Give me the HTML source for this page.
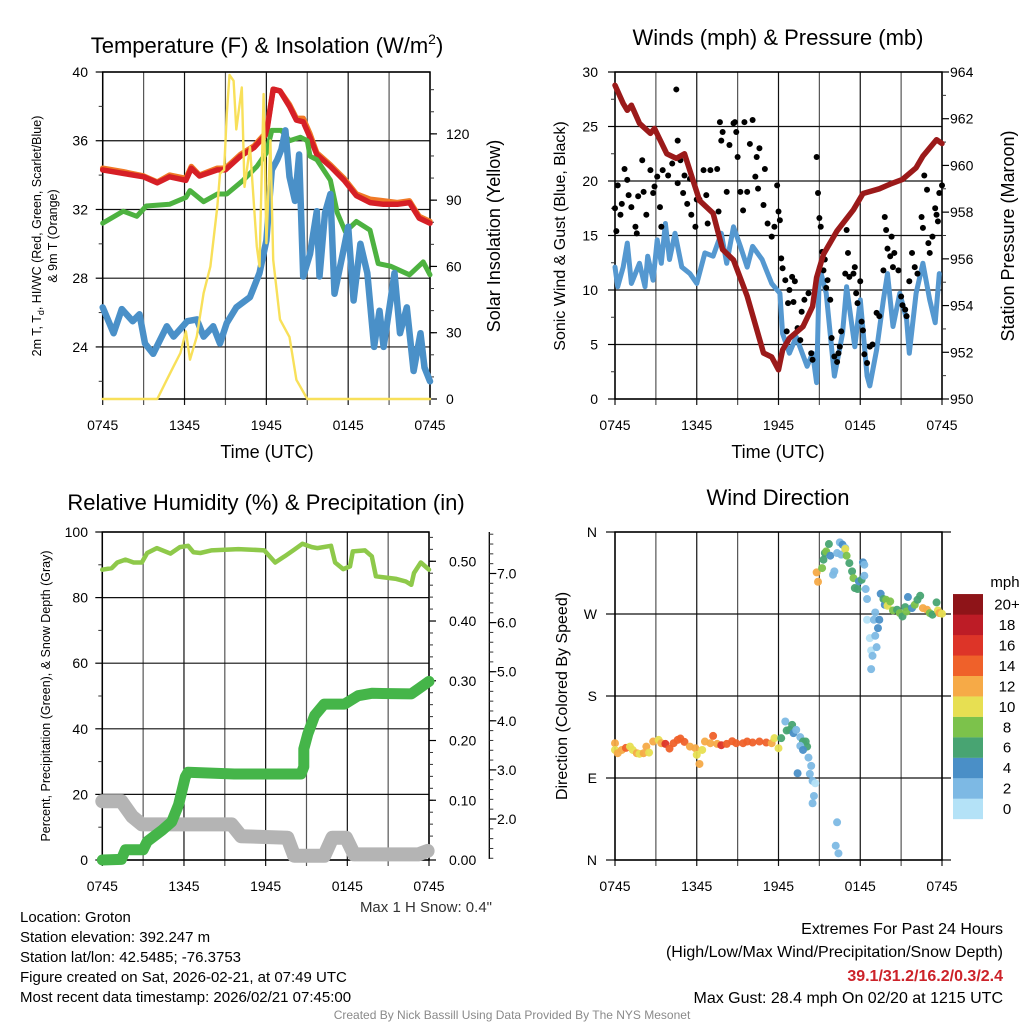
<!DOCTYPE html>
<html><head><meta charset="utf-8"><style>
html,body{margin:0;padding:0;background:#fff;}
svg{display:block;font-family:"Liberation Sans",Arial,sans-serif;}
</style></head><body>
<svg id="fig" width="1024" height="1024" viewBox="0 0 1024 1024" xmlns="http://www.w3.org/2000/svg">
<rect width="1024" height="1024" fill="#fff"/>
<text x="267" y="53" font-size="22" text-anchor="middle">Temperature (F) &amp; Insolation (W/m<tspan font-size="14" dy="-9">2</tspan><tspan dy="9">)</tspan></text>
<text x="778" y="45" font-size="22" text-anchor="middle">Winds (mph) &amp; Pressure (mb)</text>
<text x="266" y="510" font-size="22" text-anchor="middle">Relative Humidity (%) &amp; Precipitation (in)</text>
<text x="778" y="505" font-size="22" text-anchor="middle">Wind Direction</text>

<text x="267" y="458" font-size="18" text-anchor="middle">Time (UTC)</text>
<text x="778" y="458" font-size="18" text-anchor="middle">Time (UTC)</text>

<text transform="translate(41,236) rotate(-90)" font-size="12.5" text-anchor="middle">2m T, T<tspan font-size="9" dy="3">d</tspan><tspan dy="-3">, HI/WC (Red, Green, Scarlet/Blue)</tspan></text>
<text transform="translate(57,236) rotate(-90)" font-size="12.5" text-anchor="middle">&amp; 9m T (Orange)</text>
<text transform="translate(500,236) rotate(-90)" font-size="18" text-anchor="middle">Solar Insolation (Yellow)</text>
<text transform="translate(565,236) rotate(-90)" font-size="16" text-anchor="middle">Sonic Wind &amp; Gust (Blue, Black)</text>
<text transform="translate(1014,236) rotate(-90)" font-size="18" text-anchor="middle">Station Pressure (Maroon)</text>
<text transform="translate(50,696) rotate(-90)" font-size="12.5" text-anchor="middle">Percent, Precipitation (Green), &amp; Snow Depth (Gray)</text>
<text transform="translate(567,696) rotate(-90)" font-size="16" text-anchor="middle">Direction (Colored By Speed)</text>

<text x="492" y="912" font-size="15" fill="#333" text-anchor="end">Max 1 H Snow: 0.4"</text>
<g font-size="15">
<text x="20" y="922">Location: Groton</text>
<text x="20" y="942">Station elevation: 392.247 m</text>
<text x="20" y="962">Station lat/lon: 42.5485; -76.3753</text>
<text x="20" y="982">Figure created on Sat, 2026-02-21, at 07:49 UTC</text>
<text x="20" y="1002">Most recent data timestamp: 2026/02/21 07:45:00</text>
</g>
<g font-size="16" text-anchor="end">
<text x="1003" y="934">Extremes For Past 24 Hours</text>
<text x="1003" y="957">(High/Low/Max Wind/Precipitation/Snow Depth)</text>
<text x="1003" y="981" fill="#cc2229" font-weight="bold">39.1/31.2/16.2/0.3/2.4</text>
<text x="1003" y="1003">Max Gust: 28.4 mph On 02/20 at 1215 UTC</text>
</g>
<text x="512" y="1019" font-size="12" fill="#8a8a8a" text-anchor="middle">Created By Nick Bassill Using Data Provided By The NYS Mesonet</text>
<text x="1005" y="587" font-size="15" text-anchor="middle">mph</text>
</svg>
<script>
// ---------- Data ----------
const xTickLabels = ["0745","1345","1945","0145","0745"];
// Panel 1: temperature (F) & insolation
const redHours = [0,1.5,3.0,4.0,4.9,6.1,6.5,7.1,8.4,9.0,10.1,11.1,12.0,12.5,13.0,13.7,14.2,14.7,15.2,15.7,16.7,17.7,18.6,19.6,20.6,21.6,22.5,23.2,24.0];
const tempRed = [34.3,34.1,33.9,33.55,33.9,33.7,34.4,33.95,34.3,34.3,35.1,35.6,36.4,39.0,38.9,38.0,37.2,37.1,36.2,35.2,34.5,33.7,32.8,32.4,32.3,32.3,32.4,31.5,31.2];
const temp9m = [34.4,34.2,33.95,33.6,34.0,33.8,34.5,34.0,34.4,34.4,35.2,35.7,36.5,39.0,38.9,38.1,37.3,37.3,36.4,35.3,34.6,33.8,32.9,32.6,32.5,32.4,32.5,31.6,31.3];
const greenHours = [0,1.5,2.5,3.2,4.9,6.1,6.4,7.4,8.4,9.1,10.3,11.3,12.0,12.4,13.1,13.7,14.5,15.0,15.2,15.7,16.7,17.2,17.8,18.6,19.6,20.2,21.1,22.5,23.5,24.0];
const dewpoint = [31.2,31.9,31.6,32.2,32.3,32.7,33.1,32.45,32.9,32.9,33.7,34.5,35.3,36.6,36.6,36.0,36.2,36.0,35.1,34.9,33.7,31.8,30.7,31.3,30.8,28.85,28.7,28.2,28.95,28.2];
const blueHours = [0,0.8,1.4,2.2,2.7,3.1,3.7,4.2,4.7,5.2,6.2,6.9,7.4,8.1,8.6,9.1,9.8,10.8,11.5,12.0,12.4,12.8,13.1,13.4,13.7,14.1,14.4,14.7,15.2,15.7,15.9,16.3,16.7,17.0,17.7,18.0,18.4,18.9,19.4,19.9,20.3,20.6,21.1,21.4,21.8,22.3,22.8,23.3,23.6,24.0];
const windChill = [26.3,24.8,26.2,25.5,25.9,24.2,23.6,24.4,25.2,24.6,25.5,25.6,24.6,25.2,24.2,25.4,26.3,26.9,28.3,30.2,34.3,34.9,35.5,36.6,33.9,32.5,35.2,28.1,29.4,31.9,28.1,31.8,32.9,27.1,29.8,31.0,26.7,30.0,28.3,24.0,26.1,24.0,26.7,28.3,24.8,26.3,22.6,24.8,22.8,22.0];
const solarHours = [0,4.0,4.7,5.2,5.7,6.1,6.4,6.9,7.4,7.9,8.4,8.6,8.9,9.1,9.3,9.6,9.8,10.2,10.4,10.8,11.3,11.5,11.8,12.0,12.3,12.5,13.0,13.7,14.2,15.0,24.0];
const solar = [0,0,8.7,14.8,20.8,30.6,17.8,28.3,47.9,60,87,102,103.7,129,146.7,144,122,141,96,114,69,60,138,70.5,117,63,36,28,8.7,0,0];
const tempTicks = [24,28,32,36,40];
const solarTicks = [0,30,60,90,120];
// Panel 2: winds & pressure
const windHours = [0,0.2,0.6,0.9,1.2,1.8,2.2,2.4,2.8,3.1,3.4,3.7,4.0,4.4,4.9,5.5,6.0,6.6,7.2,7.8,8.2,8.7,9.2,9.7,10.1,10.8,11.5,12.1,12.3,12.8,13.3,14.1,14.5,14.8,15.0,15.5,16.1,16.7,17.0,17.6,18.0,18.5,18.7,19.2,19.7,20.0,20.4,20.9,21.4,21.6,22.1,22.6,23.1,23.5,23.8];
const windSpeed = [12.1,10.3,12.1,14.3,10.6,12.45,10.3,13.1,10.9,14.6,12.45,16.1,12.8,15.2,12.1,11.5,10.6,13.4,13.1,15.2,12.45,15.8,14.0,12.1,14.0,12.8,10.6,9.7,6.0,4.2,5.7,3.0,4.2,1.5,12.1,9.7,2.1,6.0,10.3,4.8,9.1,2.1,1.2,4.5,9.1,11.5,6.65,9.7,7.3,4.2,9.7,12.45,9.1,7.0,11.5];
const gustHours = [0.0,0.1,0.2,0.4,0.5,0.7,0.9,1.0,1.2,1.5,1.6,1.7,2.0,2.1,2.3,2.6,2.8,2.9,3.1,3.3,3.4,3.5,3.9,4.2,4.5,4.6,4.6,4.8,5.0,5.1,5.3,5.5,5.6,5.9,6.0,6.2,6.5,6.7,6.8,7.0,7.5,7.6,7.7,7.8,7.9,8.2,8.4,8.7,8.8,8.9,9.0,9.2,9.4,9.5,9.7,9.9,10.1,10.3,10.4,10.5,10.6,10.9,11.0,11.2,11.5,11.7,11.9,12.0,12.1,12.2,12.3,12.5,12.6,12.7,12.8,13.0,13.1,13.2,13.4,13.6,13.7,13.9,14.2,14.4,14.5,14.8,14.9,15.0,15.1,15.2,15.3,15.4,15.5,15.6,15.8,15.9,16.1,16.3,16.4,16.5,16.6,16.9,17.0,17.1,17.2,17.5,17.6,17.7,17.8,18.0,18.1,18.2,18.3,18.5,18.7,18.9,19.2,19.4,19.7,19.8,19.9,20.0,20.2,20.3,20.4,20.5,20.8,21.0,21.1,21.3,21.4,21.6,21.8,22.0,22.2,22.5,22.6,22.7,22.9,23.0,23.1,23.3,23.5,23.6,23.7,23.8,24.0];
const gustSpeed = [17.5,15.4,19.6,16.9,17.9,21.1,20.1,18.7,17.6,15.8,15.2,18.6,21.9,19.0,16.9,21.0,18.9,19.5,20.4,17.6,15.8,21.0,20.5,21.6,28.4,19.8,23.7,21.9,18.9,20.5,17.9,20.2,16.9,15.8,18.3,18.3,21.0,18.7,16.1,21.0,21.1,17.2,25.4,23.7,24.5,19.0,23.3,25.3,25.4,24.5,22.2,19.0,17.3,25.4,19.0,23.4,25.6,20.4,22.2,19.3,23.0,17.8,21.1,16.1,14.9,15.8,19.6,17.2,16.4,12.9,12.0,10.9,6.2,8.8,10.0,11.2,8.9,10.8,6.5,5.4,8.0,9.1,9.7,4.2,3.6,22.2,18.9,16.6,15.8,13.5,11.8,12.8,10.2,10.9,9.1,5.6,3.9,3.4,4.2,4.8,6.2,11.5,15.5,13.4,11.2,11.5,12.1,9.7,8.8,10.8,7.1,6.3,4.1,3.3,4.8,5.0,7.9,7.6,11.8,16.7,15.5,13.8,13.1,14.9,12.1,13.4,11.8,9.4,8.6,8.2,7.6,10.8,13.4,12.1,11.5,16.7,15.7,20.5,19.2,14.3,13.4,14.9,17.5,16.9,16.3,18.9,19.6];
const pressHours = [0,0.6,0.9,1.2,1.8,2.6,2.9,3.8,4.5,5.1,6.2,7.2,7.9,8.7,9.7,10.9,11.5,12.0,12.3,12.8,13.8,14.5,14.8,15.3,16.3,17.5,18.2,19.4,20.2,21.1,22.1,22.6,23.6,24.0];
const pressure = [963.43,962.65,962.36,962.58,961.8,961.37,961.58,960.5,960.3,960.5,958.5,957.95,956.4,955.95,954.4,951.97,951.8,951.25,952.1,952.6,953.1,953.96,955.2,956.2,957.2,958.1,958.8,959.0,959.2,959.4,959.9,960.4,961.1,960.94];
const windTicks = [0,5,10,15,20,25,30];
const pressTicks = [950,952,954,956,958,960,962,964];
// Panel 3: RH, precip, snow depth
const rhHours = [0,0.7,1.1,1.7,2.3,2.9,3.3,4.0,5.0,5.7,6.3,6.7,7.2,8.0,9.0,10.0,11.0,11.9,12.7,13.4,14.1,14.7,15.4,15.8,16.8,17.1,17.7,18.2,18.4,19.3,19.8,20.1,21.0,21.6,22.3,22.7,22.9,23.4,24.0];
const rh = [88.5,89,90.7,91.6,90.7,90.7,93.6,95.1,93.4,95.4,95.8,93.8,93.6,94.4,94.6,94.8,94.6,94.4,90.7,92.6,94.6,96.4,95.4,95.1,95.8,90.7,88.7,89.5,94.1,94.4,92.6,86.5,86.0,85.7,84.9,83.9,87.5,90.7,88.5];
const precipHours = [0,1.4,1.7,3.0,3.3,4.4,5.1,5.6,6.1,6.3,9.7,14.6,14.8,14.8,15.1,15.6,16.3,17.8,18.8,19.8,22.7,23.2,24.0];
const precip = [0,0.001,0.017,0.017,0.031,0.05,0.064,0.092,0.139,0.147,0.144,0.144,0.156,0.186,0.211,0.242,0.261,0.261,0.275,0.279,0.278,0.286,0.299];
const snowHours = [0,1.4,2.2,2.9,9.5,10.2,13.6,14.1,15.6,16.3,16.9,17.9,18.5,23.2,23.9];
const snowDepth = [2.36,2.36,2.05,1.89,1.89,1.65,1.62,1.25,1.25,1.25,1.62,1.62,1.28,1.28,1.35];
const rhTicks = [0,20,40,60,80,100];
const precipTicks = [0,0.1,0.2,0.3,0.4,0.5];
const snowTicks = [2,3,4,5,6,7];
// Panel 4: wind direction colored by speed
const dirHours = [0.0,0.0,0.2,0.5,0.8,1.1,1.3,1.6,1.8,2.1,2.3,2.5,2.8,3.2,3.4,3.7,4.0,4.3,4.6,4.8,5.1,5.5,5.9,6.0,6.2,6.4,6.6,7.0,7.2,7.5,7.8,8.2,8.6,8.9,9.4,9.7,10.1,10.6,11.1,11.5,11.7,12.0,12.2,12.5,12.6,12.8,13.0,13.1,13.3,13.6,13.8,14.0,14.1,13.6,13.8,13.4,14.2,14.4,14.3,14.5,14.7,14.6,14.5,16.3,16.2,16.4,14.8,14.9,15.2,15.3,15.4,15.5,15.7,15.8,16.0,16.1,16.3,16.5,16.6,16.7,16.9,16.9,17.0,17.2,17.4,17.5,17.6,17.8,17.9,18.1,18.2,18.3,18.3,18.4,18.5,18.5,18.7,18.8,18.9,18.8,19.0,19.1,19.1,19.2,19.3,19.4,19.5,19.7,19.8,19.9,20.0,20.2,20.4,20.7,20.9,21.1,21.3,21.4,21.5,21.8,22.0,22.2,22.4,22.6,22.9,23.1,23.3,23.6,23.7,23.8,24.0];
const dirDeg = [128.2,120.8,117.2,120.8,123.0,124.5,120.8,117.2,116.5,117.2,124.5,117.9,130.0,131.8,128.2,127.4,122.3,128.2,131.8,133.3,129.6,124.5,122.7,115.4,105.4,120.8,130.0,128.2,136.2,127.4,126.0,127.4,130.4,128.2,128.2,130.0,128.9,130.0,128.9,128.2,133.7,122.7,133.7,152.0,142.1,142.8,148.3,139.2,142.8,134.8,130.0,130.0,124.5,125.2,120.8,95.2,112.4,103.3,94.5,86.8,84.2,70.3,62.3,41.4,15.7,7.3,315.7,305.4,320.4,329.6,336.9,338.7,346.8,334.0,313.1,316.8,336.9,348.6,335.1,346.1,342.4,341.3,334.0,325.9,316.8,309.4,298.5,297.4,305.8,307.6,326.7,324.1,312.0,297.4,286.4,263.7,243.5,230.0,224.1,209.5,263.7,271.7,246.1,233.6,254.5,263.7,292.2,286.4,280.1,285.6,279.0,283.8,273.9,274.7,271.0,267.3,277.6,272.8,288.6,276.5,280.1,285.6,290.0,276.5,274.7,271.0,269.2,282.7,273.9,271.0,270.3];
const dirSpeed = [13,10,12,12,15,10,10,12,11,12,12,11,13,10,13,17,15,14,15,15,14,12,12,10,13,10,12,12,15,12,16,14,15,15,15,14,14,14,14,12,10,10,7,3,6,6,7,4,3,3,7,6,6,3,4,4,3,3,2,2,1,2,2,3,2,2,12,12,8,6,7,8,7,4,3,2,3,2,2,4,3,10,8,6,7,8,6,6,4,6,4,3,3,3,2,1,1,1,2,2,3,3,2,3,4,4,4,6,4,8,10,8,8,7,8,6,6,8,4,5,8,7,7,13,12,8,6,7,11,12,11];
const dirTickLabels = ["N","E","S","W","N"];
const speedBins = ["0","2","4","6","8","10","12","14","16","18","20+"];
const speedColors = ["#b4e2f7","#7db9e4","#4a8fc7","#48a472","#7cc24b","#e7df52","#f6aa47","#ef612a","#dd3428","#bd1c26","#8e1418"];

// ---------- Drawing ----------
const NS = "http://www.w3.org/2000/svg";
const svg = document.getElementById("fig");
function mk(tag, a, parent){const e=document.createElementNS(NS,tag);for(const k in a)e.setAttribute(k,a[k]);(parent||svg).appendChild(e);return e;}
function lin(d0,d1,r0,r1){return v=>r0+(v-d0)/(d1-d0)*(r1-r0);}

const P1={x0:102.7,x1:430,y0:72,y1:399};
const P2={x0:615,x1:942,y0:72,y1:399};
const P3={x0:102.3,x1:429,y0:532,y1:860};
const P4={x0:615,x1:942,y0:532,y1:860};
[P1,P2,P3,P4].forEach(p=>{p.x=lin(0,24,p.x0,p.x1);});
const y1L=lin(20.97,40,P1.y1,P1.y0), y1R=lin(0,148,P1.y1,P1.y0);
const y2L=lin(0,30,P2.y1,P2.y0), y2R=lin(950,964,P2.y1,P2.y0);
const y3L=lin(0,100,P3.y1,P3.y0), y3P=lin(0,0.549,P3.y1,P3.y0), y3S=lin(1.165,7.845,P3.y1,P3.y0);
const y4=lin(0,360,P4.y1,P4.y0);

function grid(p,name,hVals,yf,extL,extR){
  const g=mk('g',{});
  
  
  for(let h=0;h<=24;h+=3){
    const x=p.x(h);
    const l=mk('line',{x1:x,x2:x,y1:p.y0,y2:p.y1+6,stroke:(h%6===0)?'#111':'#555','stroke-width':1.2},g);
    
    
  }
  hVals.forEach(v=>{
    const y=yf(v);
    const l=mk('line',{x1:p.x0-(extL||0),x2:p.x1+(extR||0),y1:y,y2:y,stroke:'#111','stroke-width':1.2},g);
    
    
  });
  const fr=mk('rect',{x:p.x0,y:p.y0,width:p.x1-p.x0,height:p.y1-p.y0,fill:'none',stroke:'#000','stroke-width':1.5},g);
  
  
  xTickLabels.forEach((t,i)=>{
    const tx=mk('text',{x:p.x(i*6),y:p.y1+31,'font-size':14,'text-anchor':'middle'},g);
    tx.textContent=t;
    
    
  });
}
function axis(name,x,yf,ticks,minor,side,fmt,len,lx){
  const g=mk('g',{});
  
  
  const dir=side==='left'?-1:1;
  minor.forEach(v=>{
    const y=yf(v);
    const l=mk('line',{x1:x,x2:x+dir*4,y1:y,y2:y,stroke:'#333','stroke-width':1},g);
    
    
  });
  ticks.forEach(v=>{
    const y=yf(v);
    const l=mk('line',{x1:x,x2:x+dir*len,y1:y,y2:y,stroke:'#000','stroke-width':1.2},g);
    
    
    const t=mk('text',{x:lx,y:y+5,'font-size':14,'text-anchor':side==='left'?'end':'start'},g);
    t.textContent=fmt(v);
    
    
  });
}
function range(a,b,s){const r=[];for(let v=a;v<=b+1e-9;v+=s)r.push(+v.toFixed(4));return r;}
function poly(name,p,hours,vals,yf,color,w){
  const pts=hours.map((h,i)=>p.x(h).toFixed(1)+','+yf(vals[i]).toFixed(1)).join(' ');
  const el=mk('polyline',{points:pts,fill:'none',stroke:color,'stroke-width':w,'stroke-linejoin':'round','stroke-linecap':'round'});
  
  
}

// Panel 1
grid(P1,'temp',tempTicks,y1L);
axis('temp-left-axis',P1.x0,y1L,tempTicks,[22,26,30,34,38],'left',v=>String(v),7,88);
axis('insolation-right-axis',P1.x1,y1R,solarTicks,range(0,140,10),'right',v=>String(v),7,446);
poly('temp-9m-line',P1,redHours,temp9m,y1L,'#f07a26',5.5);
poly('temp-2m-line',P1,redHours,tempRed,y1L,'#d61f26',5.5);
poly('dewpoint-line',P1,greenHours,dewpoint,y1L,'#4db240',5);
poly('windchill-line',P1,blueHours,windChill,y1L,'#4a90c8',6.5);
poly('insolation-line',P1,solarHours,solar,y1R,'#f8e05a',2.4);

// Panel 2
grid(P2,'wind',windTicks,y2L);
axis('wind-left-axis',P2.x0,y2L,windTicks,range(2.5,27.5,5),'left',v=>String(v),7,598);
axis('pressure-right-axis',P2.x1,y2R,pressTicks,range(951,963,2),'right',v=>String(v),7,950);
poly('sonic-wind-line',P2,windHours,windSpeed,y2L,'#5598d0',5);
gustHours.forEach((h,i)=>{
  const c=mk('circle',{cx:P2.x(h),cy:y2L(gustSpeed[i]),r:3,fill:'#000'});
  
  
});
poly('pressure-line',P2,pressHours,pressure,y2R,'#9b1a1a',5.5);

// Panel 3
grid(P3,'rh',rhTicks,y3L);
axis('rh-left-axis',P3.x0,y3L,rhTicks,range(10,90,20),'left',v=>String(v),7,88);
axis('precip-right-axis',P3.x1,y3P,precipTicks,range(0,0.54,0.02),'right',v=>v.toFixed(2),7,449);
const snowAx=mk('line',{x1:489.3,x2:489.3,y1:P3.y0,y2:P3.y1-1,stroke:'#000','stroke-width':1.3});


axis('snow-right-axis',489.3,y3S,snowTicks,range(1.2,7.8,0.2),'right',v=>v.toFixed(1),7,497);
poly('snow-depth-line',P3,snowHours,snowDepth,y3S,'#b4b4b4',14);
poly('precip-line',P3,precipHours,precip,y3P,'#45b549',11);
poly('rh-line',P3,rhHours,rh,y3L,'#8ec94a',4.5);

// Panel 4
grid(P4,'direction',[0,90,180,270,360],y4,9,9);
dirTickLabels.forEach((t,i)=>{
  const tx=mk('text',{x:597,y:y4(i*90)+5,'font-size':14,'text-anchor':'end'});
  tx.textContent=t;
  
  
});
dirHours.forEach((h,i)=>{
  const b=Math.min(10,Math.floor(dirSpeed[i]/2));
  const c=mk('circle',{cx:P4.x(h),cy:y4(dirDeg[i]),r:4,fill:speedColors[b],'fill-opacity':0.95});
  
  
});
speedBins.forEach((lab,i)=>{
  const top=819-(i+1)*20.45;
  const r=mk('rect',{x:953,y:top,width:30,height:20.6,fill:speedColors[i]});
  
  
  const t=mk('text',{x:1007,y:top+15.5,'font-size':15,'text-anchor':'middle'});
  t.textContent=lab;
  
  
});
</script>
</body></html>
